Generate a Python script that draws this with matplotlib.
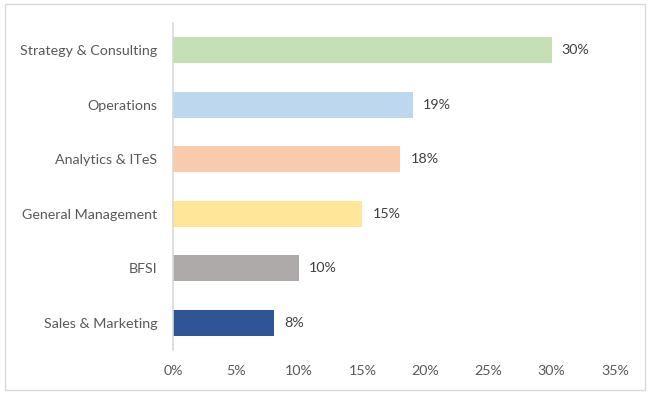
import matplotlib.pyplot as plt
from matplotlib.patches import Rectangle

categories = ["Strategy & Consulting", "Operations", "Analytics & ITeS",
              "General Management", "BFSI", "Sales & Marketing"]
shares = [30, 19, 18, 15, 10, 8]
colors = ["#c5e0b4", "#bdd7ee", "#f8cbad", "#ffe699", "#aeaaaa", "#2f5597"]
xticks = [0, 5, 10, 15, 20, 25, 30, 35]

plt.rcParams["font.family"] = ["Lato", "DejaVu Sans"]
txt = "#595959"

fig = plt.figure(figsize=(6.5, 3.94), dpi=100)
ax = fig.add_axes([0.266, 0.112, 0.68, 0.83])

ypos = list(range(len(categories)))[::-1]
ax.barh(ypos, shares, height=0.48, color=colors)
for y, v in zip(ypos, shares):
    ax.text(v + 0.8, y, f"{v}%", va="center", ha="left", fontsize=10.3, color="#404040")

ax.set_xlim(0, 35)
ax.set_ylim(-0.5, 5.5)
ax.set_xticks(xticks)
ax.set_xticklabels([f"{t}%" for t in xticks])
ax.set_yticks(ypos)
ax.set_yticklabels(categories)
ax.tick_params(length=0, labelsize=10.3, colors=txt)
ax.tick_params(axis="x", pad=11)
ax.tick_params(axis="y", pad=11)
for s in ["top", "right", "bottom"]:
    ax.spines[s].set_visible(False)
ax.spines["left"].set_color("#d9d9d9")
ax.spines["left"].set_linewidth(1.2)

fig.patches.append(Rectangle((0.008, 0.01), 0.984, 0.98, transform=fig.transFigure,
                             fill=False, edgecolor="#d9d9d9", linewidth=1))

fig.savefig("out.png", dpi=100)
